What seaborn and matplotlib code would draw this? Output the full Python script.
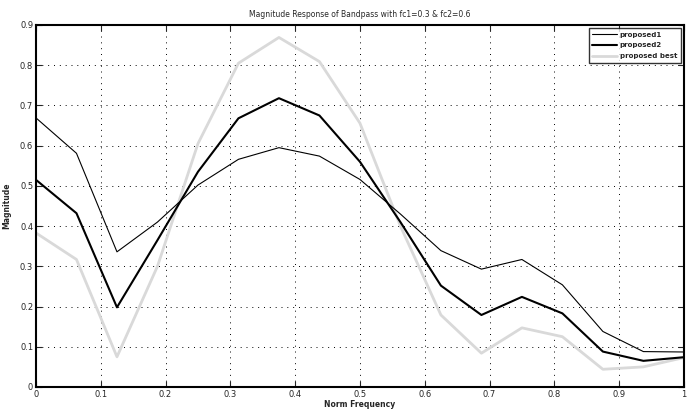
import numpy as np
import pandas as pd
import matplotlib
matplotlib.use("Agg")
import matplotlib.pyplot as plt
import seaborn as sns

# Normalised frequency grid (17 samples) and magnitude responses
freq = [0, 0.0625, 0.125, 0.1875, 0.25, 0.3125, 0.375, 0.4375, 0.5,
        0.5625, 0.625, 0.6875, 0.75, 0.8125, 0.875, 0.9375, 1.0]
proposed1 = [0.669, 0.581, 0.336, 0.410, 0.502, 0.566, 0.595, 0.574, 0.516,
             0.430, 0.339, 0.293, 0.317, 0.254, 0.138, 0.088, 0.087]
proposed2 = [0.515, 0.432, 0.198, 0.365, 0.535, 0.668, 0.718, 0.675, 0.560,
             0.410, 0.252, 0.179, 0.224, 0.183, 0.088, 0.065, 0.074]
proposed_best = [0.383, 0.317, 0.075, 0.300, 0.605, 0.805, 0.869, 0.809, 0.656,
                 0.400, 0.179, 0.084, 0.147, 0.125, 0.044, 0.050, 0.073]

series_names = ["proposed1", "proposed2", "proposed best"]
series_values = [proposed1, proposed2, proposed_best]
series_colors = ["black", "black", "#d9d9d9"]
series_widths = [0.8, 1.5, 2.0]

x_ticks = [0, 0.1, 0.2, 0.3, 0.4, 0.5, 0.6, 0.7, 0.8, 0.9, 1]
x_tick_labels = ["0", "0.1", "0.2", "0.3", "0.4", "0.5", "0.6", "0.7", "0.8", "0.9", "1"]
y_ticks = [0, 0.1, 0.2, 0.3, 0.4, 0.5, 0.6, 0.7, 0.8, 0.9]
y_tick_labels = ["0", "0.1", "0.2", "0.3", "0.4", "0.5", "0.6", "0.7", "0.8", "0.9"]

sns.set_style("white")
plt.rcParams["font.family"] = ["DejaVu Sans"]

fig = plt.figure(figsize=(6.88, 4.13), dpi=100)
ax = fig.add_axes([0.0523, 0.063, 0.9417, 0.8765])

# Grid first so curves sit on top
ax.set_xticks(x_ticks)
ax.set_yticks(y_ticks)
ax.grid(True, color="black", linestyle=(0, (1, 5)), linewidth=0.7)
ax.set_axisbelow(True)

for name, vals, col, lw in zip(series_names, series_values, series_colors, series_widths):
    df = pd.DataFrame({"freq": freq, "mag": vals})
    sns.lineplot(data=df, x="freq", y="mag", ax=ax, color=col, linewidth=lw,
                 label=name, zorder=3 if col == "black" else 2)

ax.set_xlim(0, 1)
ax.set_ylim(0, 0.9)
ax.set_xticklabels(x_tick_labels, fontsize=6)
ax.set_yticklabels(y_tick_labels, fontsize=6)
ax.tick_params(direction="in", length=4, width=0.8, top=True, right=True,
               bottom=True, left=True, pad=2)
for side in ax.spines.values():
    side.set_linewidth(1.5)
    side.set_color("black")

ax.set_title("Magnitude Response of Bandpass with fc1=0.3 & fc2=0.6",
             fontsize=5.5, pad=6)
ax.set_xlabel("Norm Frequency", fontsize=5.5, fontweight="bold", labelpad=1)
ax.set_ylabel("Magnitude", fontsize=5.5, fontweight="bold", labelpad=6)

leg = ax.legend(loc="upper right", fontsize=5, frameon=True, fancybox=False,
                borderpad=0.5, handlelength=3.6, handletextpad=0.4,
                labelspacing=0.7, borderaxespad=0.45)
leg.get_frame().set_edgecolor("black")
leg.get_frame().set_linewidth(1.0)
for t in leg.get_texts():
    t.set_fontweight("bold")

fig.savefig("out.png", dpi=100)
